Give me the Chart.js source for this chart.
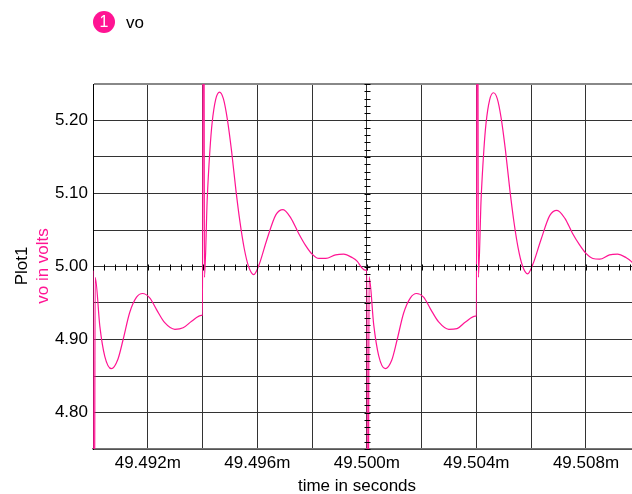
<!DOCTYPE html>
<html>
<head>
<meta charset="utf-8">
<title>vo</title>
<script src="https://cdn.jsdelivr.net/npm/chart.js@4.4.1/dist/chart.umd.min.js"></script>
<style>
  html, body { margin: 0; padding: 0; background: #fff; }
  #voChart { display: block; }
</style>
</head>
<body>
<canvas id="voChart" width="632" height="494"></canvas>
<script>
// time in milliseconds
const timeMs = [
  49.49000, 49.49002, 49.49005, 49.49008, 49.49025, 49.49043, 49.49067, 49.49091, 49.49110, 49.49134,
  49.49159, 49.49181, 49.49207, 49.49232, 49.49262, 49.49299, 49.49329, 49.49360, 49.49396,
  49.49400, 49.49402, 49.49405, 49.49407, 49.49417, 49.49427, 49.49435, 49.49448, 49.49462, 49.49476,
  49.49490, 49.49506, 49.49522, 49.49537, 49.49552, 49.49568, 49.49587, 49.49606, 49.49635, 49.49668,
  49.49694, 49.49723, 49.49750, 49.49776, 49.49800, 49.49825, 49.49850, 49.49886, 49.49915, 49.49947,
  49.49965, 49.49980, 49.49993,
  49.50000, 49.50002, 49.50005, 49.50008, 49.50025, 49.50043, 49.50067, 49.50091, 49.50110, 49.50134,
  49.50159, 49.50181, 49.50207, 49.50232, 49.50262, 49.50299, 49.50329, 49.50360, 49.50396,
  49.50400, 49.50402, 49.50405, 49.50407, 49.50417, 49.50427, 49.50435, 49.50448, 49.50462, 49.50476,
  49.50490, 49.50506, 49.50522, 49.50537, 49.50552, 49.50568, 49.50587, 49.50606, 49.50635, 49.50668,
  49.50694, 49.50723, 49.50750, 49.50776, 49.50800, 49.50825, 49.50850, 49.50886, 49.50915, 49.50947,
  49.50965, 49.50980
];

// vo in volts
const voltage = [
  4.995, 4.600, 4.600, 4.985, 4.918, 4.877, 4.860, 4.873, 4.900, 4.937,
  4.958, 4.963, 4.957, 4.941, 4.923, 4.914, 4.916, 4.925, 4.933,
  4.933, 5.400, 5.400, 4.985, 5.092, 5.160, 5.197, 5.229, 5.239, 5.230,
  5.203, 5.158, 5.104, 5.060, 5.025, 5.000, 4.989, 5.002, 5.037, 5.071,
  5.078, 5.066, 5.046, 5.029, 5.017, 5.011, 5.011, 5.016, 5.017, 5.012,
  5.007, 4.999, 4.995,
  4.995, 4.600, 4.600, 4.986, 4.920, 4.878, 4.860, 4.872, 4.899, 4.936,
  4.957, 4.963, 4.958, 4.942, 4.924, 4.914, 4.915, 4.924, 4.932,
  4.932, 5.400, 5.400, 4.985, 5.092, 5.159, 5.196, 5.228, 5.238, 5.230,
  5.204, 5.159, 5.105, 5.061, 5.026, 5.001, 4.990, 5.003, 5.036, 5.070,
  5.077, 5.066, 5.046, 5.030, 5.018, 5.011, 5.010, 5.016, 5.017, 5.012,
  5.007, 5.000
];

const xLabelTicks = [49.492, 49.496, 49.500, 49.504, 49.508];
const yLabelTicks = [4.80, 4.90, 5.00, 5.10, 5.20];

const pink = '#ff1493';
const fontFamily = '"Liberation Sans", Arial, sans-serif';

function hasLabel(list, v, tol) {
  return list.some(function(t) { return Math.abs(t - v) < tol; });
}

const decorPlugin = {
  id: 'decor',
  afterDatasetsDraw(chart) {
    const c = chart.ctx;
    const xs = chart.scales.x;
    const ys = chart.scales.y;
    const area = chart.chartArea;
    const x0 = Math.round(xs.getPixelForValue(49.5)) + 0.5;
    const y0 = Math.round(ys.getPixelForValue(5.0)) + 0.5;

    c.save();
    c.strokeStyle = '#000';
    c.lineWidth = 1;
    c.beginPath();
    // small ticks along the crossing axes
    for (let i = 0; i < 60; i++) {
      const px = Math.round(xs.getPixelForValue(49.490 + i * 0.0004)) + 0.5;
      if (px > area.right) break;
      c.moveTo(px, y0 - 3);
      c.lineTo(px, y0 + 3);
    }
    for (let i = 0; i <= 50; i++) {
      const py = Math.round(ys.getPixelForValue(4.75 + i * 0.01)) + 0.5;
      c.moveTo(x0 - 3, py);
      c.lineTo(x0 + 3, py);
    }
    c.stroke();
    c.restore();
  },
  afterDraw(chart) {
    const c = chart.ctx;
    c.save();
    // legend
    c.fillStyle = pink;
    c.beginPath();
    c.arc(104, 22, 11, 0, Math.PI * 2);
    c.fill();
    c.fillStyle = '#fff';
    c.font = '16px ' + fontFamily;
    c.textAlign = 'center';
    c.textBaseline = 'middle';
    c.fillText('1', 104, 23);
    c.fillStyle = '#000';
    c.font = '17px ' + fontFamily;
    c.textAlign = 'left';
    c.textBaseline = 'alphabetic';
    c.fillText('vo', 126, 28);

    // x axis title
    c.textAlign = 'center';
    c.fillText('time in seconds', 357, 491);

    // y axis titles
    c.translate(0, 266);
    c.rotate(-Math.PI / 2);
    c.fillStyle = '#000';
    c.fillText('Plot1', 0, 27);
    c.fillStyle = pink;
    c.fillText('vo in volts', 0, 48);
    c.restore();
  }
};

const voCtx = document.getElementById('voChart').getContext('2d');
const voChart = new Chart(voCtx, {
  type: 'line',
  data: {
    datasets: [{
      label: 'vo',
      data: timeMs.map(function(t, i) { return { x: t, y: voltage[i] }; }),
      borderColor: pink,
      borderWidth: 1.2,
      pointRadius: 0,
      fill: false,
      cubicInterpolationMode: 'monotone'
    }]
  },
  options: {
    responsive: false,
    animation: false,
    layout: {
      padding: { top: 84, left: 0, right: 0, bottom: 0 }
    },
    plugins: {
      legend: { display: false },
      tooltip: { enabled: false }
    },
    scales: {
      x: {
        type: 'linear',
        min: 49.490,
        max: 49.50968,
        afterFit: function(scale) { scale.height = 45; },
        grid: {
          color: '#333',
          lineWidth: 1,
          drawTicks: false
        },
        border: { color: '#777', width: 1.5 },
        ticks: {
          stepSize: 0.002,
          includeBounds: false,
          autoSkip: false,
          maxRotation: 0,
          padding: 4,
          color: '#000',
          font: { family: fontFamily, size: 17 },
          callback: function(value) {
            return hasLabel(xLabelTicks, value, 0.0001) ? value.toFixed(3) + 'm' : '';
          }
        }
      },
      y: {
        type: 'linear',
        min: 4.75,
        max: 5.25,
        afterFit: function(scale) { scale.width = 93; },
        grid: {
          color: function(ctx) {
            return Math.abs(ctx.tick.value - 5.25) < 0.001 ? '#888' : '#333';
          },
          lineWidth: function(ctx) {
            return Math.abs(ctx.tick.value - 5.25) < 0.001 ? 2 : 1;
          },
          drawTicks: false
        },
        border: { color: '#000', width: 1 },
        ticks: {
          stepSize: 0.05,
          autoSkip: false,
          padding: 5,
          color: '#000',
          font: { family: fontFamily, size: 17 },
          callback: function(value) {
            return hasLabel(yLabelTicks, value, 0.001) ? value.toFixed(2) : '';
          }
        }
      }
    }
  },
  plugins: [decorPlugin]
});
</script>
</body>
</html>
